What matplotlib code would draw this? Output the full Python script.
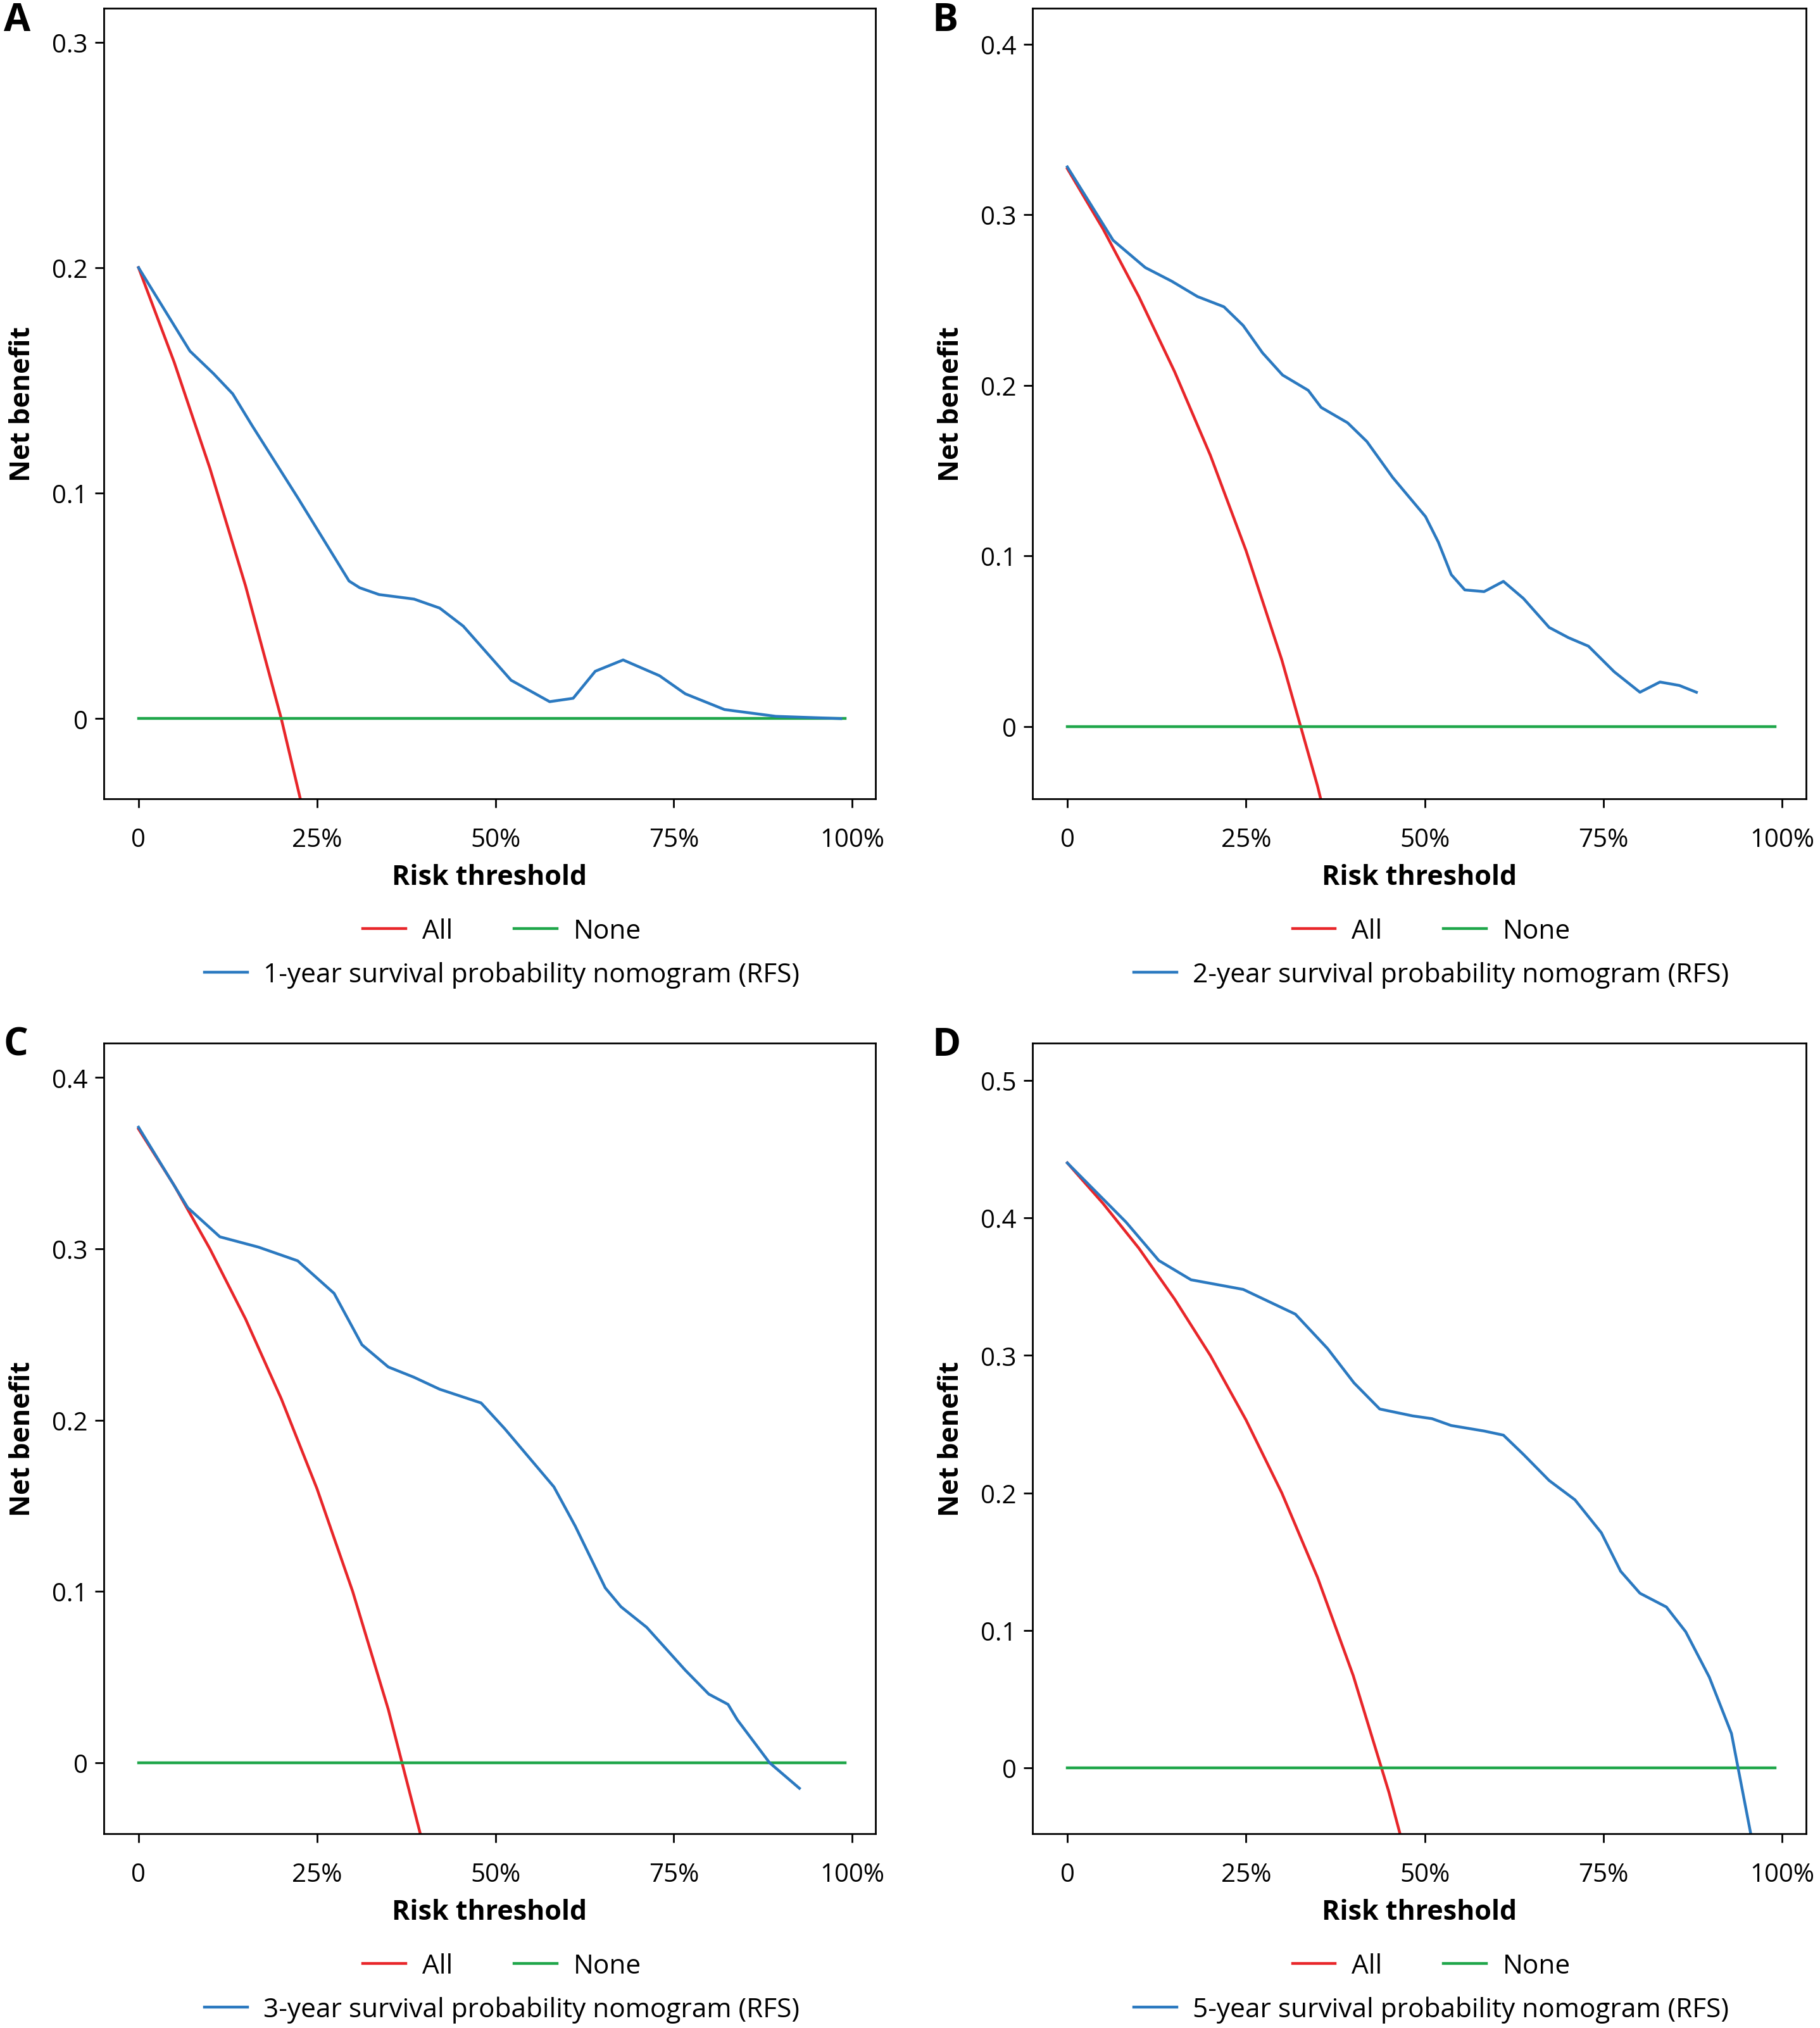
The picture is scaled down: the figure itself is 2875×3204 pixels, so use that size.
import matplotlib
matplotlib.use("Agg")
import matplotlib.pyplot as plt
from matplotlib.lines import Line2D

plt.rcParams["font.family"] = ["Open Sans", "DejaVu Sans"]

# treat-all (red) curves
all_t = {
    "A": [0, 0.05, 0.10, 0.15, 0.20, 0.25],
    "B": [0, 0.05, 0.10, 0.15, 0.20, 0.25, 0.30, 0.35, 0.36],
    "C": [0, 0.05, 0.10, 0.15, 0.20, 0.25, 0.30, 0.35, 0.40],
    "D": [0, 0.05, 0.10, 0.15, 0.20, 0.25, 0.30, 0.35, 0.40, 0.45, 0.47],
}
all_nb = {
    "A": [0.2, 0.158, 0.111, 0.0588, 0.0, -0.0667],
    "B": [0.327, 0.2916, 0.252, 0.208, 0.159, 0.103, 0.039, -0.035, -0.052],
    "C": [0.37, 0.337, 0.30, 0.259, 0.2125, 0.16, 0.10, 0.031, -0.05],
    "D": [0.44, 0.4105, 0.378, 0.341, 0.30, 0.253, 0.20, 0.1385, 0.067, -0.018, -0.057],
}

# nomogram (blue) curves
nom_t = {
    "A": [0, .072, .105, .132, .159, .223, .295, .31, .337, .386, .422, .455, .522, .576, .609,
          .64, .679, .73, .766, .821, .893, .984],
    "B": [0, .064, .109, .146, .182, .219, .246, .273, .301, .337, .355, .392, .419, .455, .501,
          .519, .537, .556, .583, .61, .638, .674, .701, .729, .765, .801, .829, .856, .88],
    "C": [0, .069, .114, .168, .223, .274, .313, .35, .386, .422, .48, .513, .582, .612, .654,
          .676, .712, .766, .799, .826, .839, .884, .926],
    "D": [0, .082, .128, .173, .246, .319, .364, .401, .437, .483, .51, .537, .583, .61, .638,
          .674, .71, .747, .774, .801, .838, .865, .898, .929, .956],
}
nom_nb = {
    "A": [.2, .163, .153, .144, .130, .098, .061, .058, .055, .053, .049, .041, .017, .0075, .009,
          .021, .026, .019, .011, .004, .001, 0],
    "B": [.328, .285, .269, .261, .252, .246, .235, .219, .206, .197, .187, .178, .167, .146, .123,
          .108, .089, .080, .079, .085, .075, .058, .052, .047, .032, .020, .026, .024, .020],
    "C": [.371, .324, .307, .301, .293, .274, .244, .231, .225, .218, .210, .195, .161, .138, .102,
          .091, .079, .054, .040, .034, .025, 0, -.015],
    "D": [.44, .397, .369, .355, .348, .330, .305, .280, .261, .256, .254, .249, .245, .242, .228,
          .209, .195, .171, .143, .127, .117, .099, .066, .025, -.048],
}

none_t = [0, 0.99]
none_nb = [0, 0]

years = {"A": "1-year", "B": "2-year", "C": "3-year", "D": "5-year"}
yticks = {
    "A": [0, 0.1, 0.2, 0.3],
    "B": [0, 0.1, 0.2, 0.3, 0.4],
    "C": [0, 0.1, 0.2, 0.3, 0.4],
    "D": [0, 0.1, 0.2, 0.3, 0.4, 0.5],
}
ylims = {"A": (-0.0356, 0.315), "B": (-0.0425, 0.421), "C": (-0.0416, 0.420), "D": (-0.048, 0.527)}
xticks = [0, 0.25, 0.5, 0.75, 1.0]
xticklabels = ["0", "25%", "50%", "75%", "100%"]

red = "#e8262a"
green = "#1fa64a"
blue = "#2b79c0"

fig = plt.figure(figsize=(28.75, 32.05), dpi=100)
pos = {
    "A": [0.0569, 0.6059, 0.4243, 0.3897],
    "B": [0.5672, 0.6059, 0.4250, 0.3897],
    "C": [0.0569, 0.0957, 0.4243, 0.3897],
    "D": [0.5672, 0.0957, 0.4250, 0.3897],
}
letter_pos = {"A": (0.002, 0.999), "B": (0.512, 0.999), "C": (0.002, 0.494), "D": (0.512, 0.494)}
lw = 3.2
fs = 29

for key in ["A", "B", "C", "D"]:
    ax = fig.add_axes(pos[key])
    ax.plot(all_t[key], all_nb[key], color=red, lw=lw)
    ax.plot(none_t, none_nb, color=green, lw=lw)
    ax.plot(nom_t[key], nom_nb[key], color=blue, lw=lw)
    ax.set_xlim(-0.049, 1.033)
    ax.set_ylim(*ylims[key])
    ax.set_xticks(xticks)
    ax.set_xticklabels(xticklabels)
    ax.set_yticks(yticks[key])
    ax.set_yticklabels(["0"] + [f"{v:.1f}" for v in yticks[key][1:]])
    ax.tick_params(labelsize=fs, width=2, length=10)
    ax.tick_params(axis="x", pad=22)
    ax.tick_params(axis="y", pad=8)
    for s in ax.spines.values():
        s.set_linewidth(2)
    ax.set_xlabel("Risk threshold", fontsize=fs + 2, fontweight="bold", labelpad=12)
    ax.set_ylabel("Net benefit", fontsize=fs + 2, fontweight="bold", labelpad=18)
    lx, ly = letter_pos[key]
    fig.text(lx, ly, key, fontsize=44, fontweight="bold", va="top", ha="left")

    h1 = [Line2D([], [], color=red, lw=lw), Line2D([], [], color=green, lw=lw)]
    leg1 = ax.legend(h1, ["All", "None"], ncol=2, loc="center", bbox_to_anchor=(0.516, -0.167),
                     frameon=False, fontsize=fs + 1.5, handlelength=1.6, columnspacing=2.3,
                     handletextpad=0.6)
    ax.add_artist(leg1)
    h2 = [Line2D([], [], color=blue, lw=lw)]
    ax.legend(h2, [f"{years[key]} survival probability nomogram (RFS)"], loc="center",
              bbox_to_anchor=(0.516, -0.222), frameon=False, fontsize=fs + 1.5,
              handlelength=1.6, handletextpad=0.6)

fig.savefig("out.png", dpi=100)
